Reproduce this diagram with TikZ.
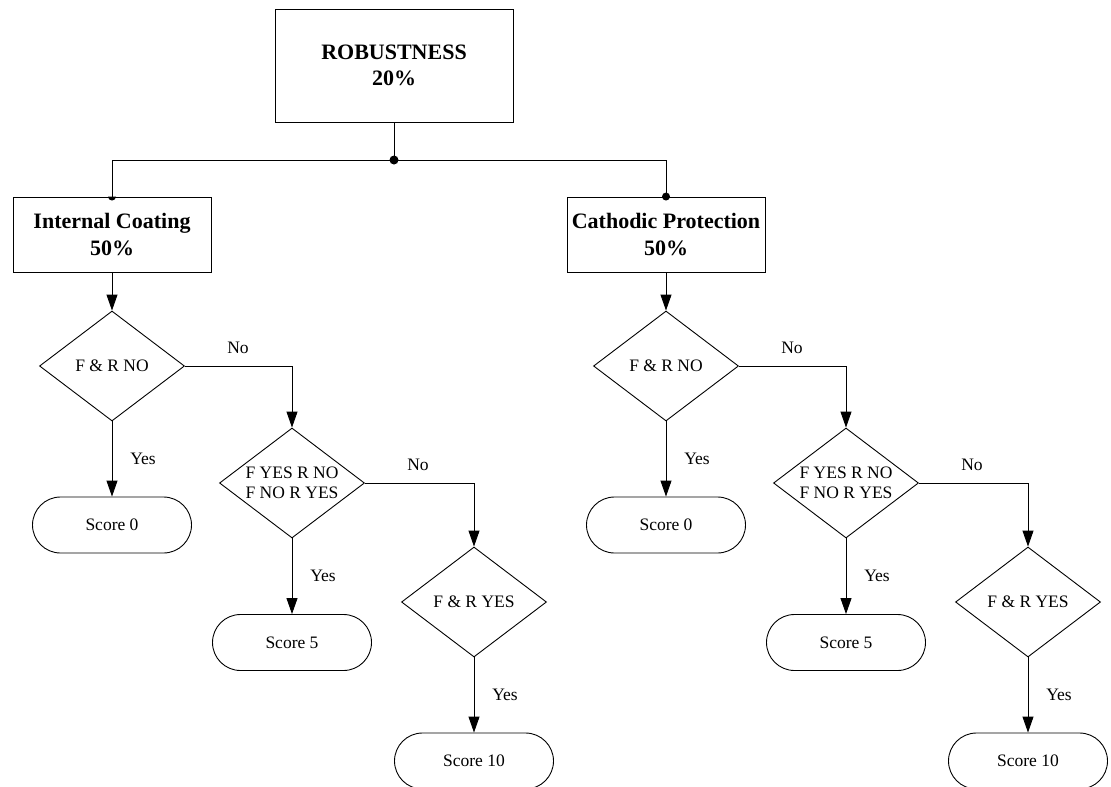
\documentclass[tikz,border=0pt]{standalone}
\usepackage{fontspec}
\setmainfont{Liberation Serif}
\usetikzlibrary{shapes.geometric,arrows.meta,calc}

\tikzset{
  every path/.style={line width=0.9pt},
  headbox/.style={draw, rectangle, fill=white, align=center, inner sep=0pt,
    font=\fontsize{22}{26.5}\selectfont\bfseries},
  decision/.style={draw, diamond, inner sep=0pt, aspect=1.318, align=center,
    minimum width=145pt, minimum height=110pt,
    font=\fontsize{17.5}{20}\selectfont},
  terminal/.style={draw, rectangle, rounded corners=28pt, inner sep=0pt,
    minimum width=159pt, minimum height=56pt,
    font=\fontsize{17.5}{20}\selectfont},
  flow/.style={-{Triangle[width=11pt,length=16pt]}},
  branchlabel/.style={inner sep=0pt, font=\fontsize{17.5}{20}\selectfont},
}

\begin{document}
\begin{tikzpicture}[x=1pt,y=-1pt]
\useasboundingbox (0,0) rectangle (1111,787);

% top level
\node[headbox, minimum width=238pt, minimum height=113pt] (top) at (394,65.5)
  {ROBUSTNESS\\20\%};
\coordinate (J) at (394,160);

% the two criteria
\node[headbox, minimum width=198pt, minimum height=75pt] (ic) at (112,234.5)
  {Internal Coating\\50\%};
\node[headbox, minimum width=198pt, minimum height=75pt] (cp) at (666,234.5)
  {Cathodic Protection\\50\%};

\draw (top.south) -- (J);
\draw (J) -| (ic.north);
\draw (J) -| (cp.north);
\fill (J) circle (4.5pt);
\fill (ic.north) ++(-4,0) arc (180:0:4) -- cycle;
\fill (cp.north) circle (4pt);

% left branch: internal coating
\node[decision] (la) at (112,366) {F \& R NO};
\node[decision] (lb) at (292,483) {F YES R NO\\F NO R YES};
\node[decision] (lc) at (474,602) {F \& R YES};
\node[terminal] (l0) at (112,525) {Score 0};
\node[terminal] (l5) at (292,642.5) {Score 5};
\node[terminal] (l10) at (474,761) {Score 10};

\draw[flow] (ic.south) -- (la.north);
\draw[flow] (la.south) -- (l0.north);
\draw[flow] (la.east) -| (lb.north);
\draw[flow] (lb.south) -- (l5.north);
\draw[flow] (lb.east) -| (lc.north);
\draw[flow] (lc.south) -- (l10.north);

\node[branchlabel] (lan) at ($(la.east)+(53,-18)$) {No};
\node[branchlabel] (lay) at ($(la.south)!0.5!(l0.north)+(31,0)$) {Yes};
\node[branchlabel] (lbn) at ($(lb.east)+(53,-18)$) {No};
\node[branchlabel] (lby) at ($(lb.south)!0.5!(l5.north)+(31,0)$) {Yes};
\node[branchlabel] (lcy) at ($(lc.south)!0.5!(l10.north)+(31,0)$) {Yes};

% right branch: cathodic protection
\node[decision] (ra) at (666,366) {F \& R NO};
\node[decision] (rb) at (846,483) {F YES R NO\\F NO R YES};
\node[decision] (rc) at (1028,602) {F \& R YES};
\node[terminal] (r0) at (666,525) {Score 0};
\node[terminal] (r5) at (846,642.5) {Score 5};
\node[terminal] (r10) at (1028,761) {Score 10};

\draw[flow] (cp.south) -- (ra.north);
\draw[flow] (ra.south) -- (r0.north);
\draw[flow] (ra.east) -| (rb.north);
\draw[flow] (rb.south) -- (r5.north);
\draw[flow] (rb.east) -| (rc.north);
\draw[flow] (rc.south) -- (r10.north);

\node[branchlabel] (ran) at ($(ra.east)+(53,-18)$) {No};
\node[branchlabel] (ray) at ($(ra.south)!0.5!(r0.north)+(31,0)$) {Yes};
\node[branchlabel] (rbn) at ($(rb.east)+(53,-18)$) {No};
\node[branchlabel] (rby) at ($(rb.south)!0.5!(r5.north)+(31,0)$) {Yes};
\node[branchlabel] (rcy) at ($(rc.south)!0.5!(r10.north)+(31,0)$) {Yes};
\end{tikzpicture}
\end{document}
